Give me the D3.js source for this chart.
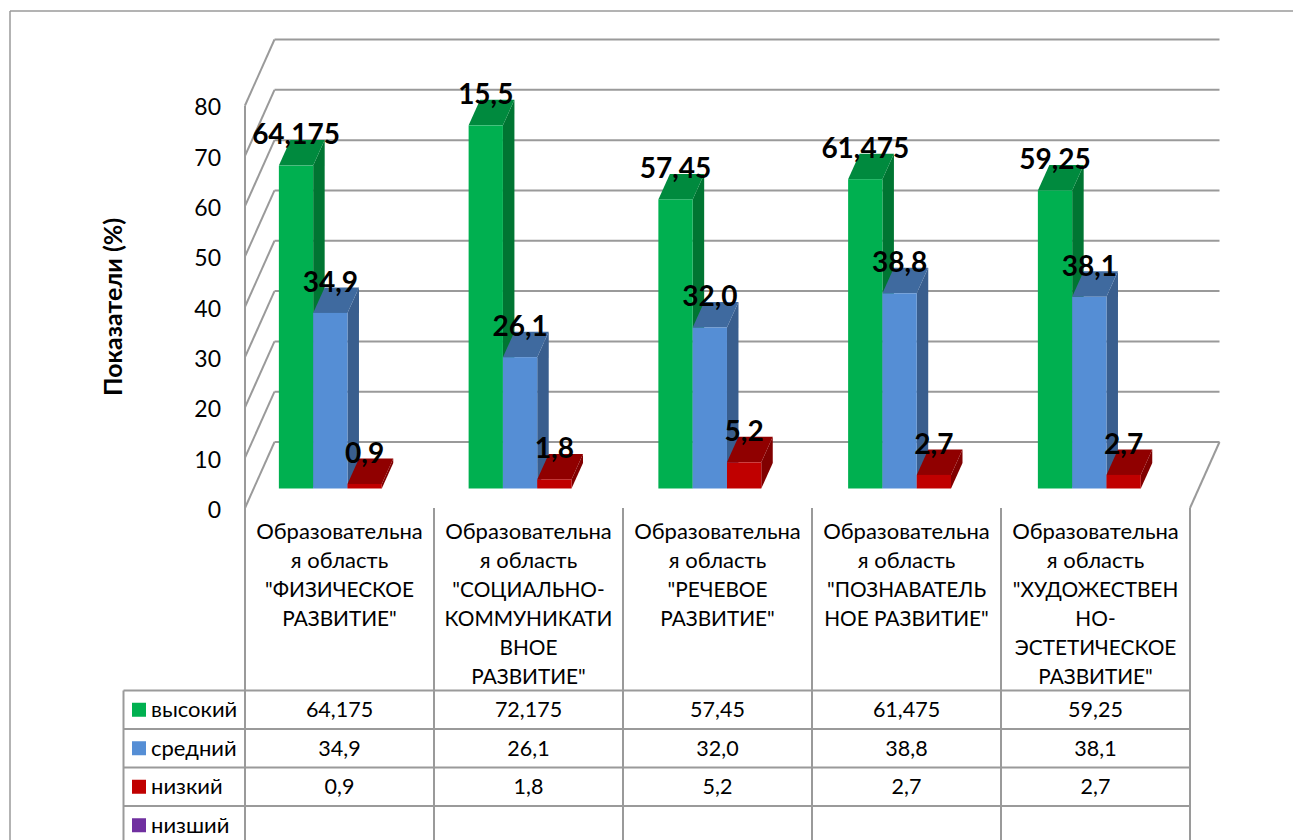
<!DOCTYPE html>
<html>
<head>
<meta charset="utf-8">
<script src="https://cdnjs.cloudflare.com/ajax/libs/d3/7.8.5/d3.min.js"></script>
<style>
	body { margin: 0; background: #fff; }
	svg { display: block; }
	text { font-family: Lato, "Noto Sans", sans-serif; fill: #000; }
</style>
</head>
<body>
<svg id="chart" width="1293" height="840"></svg>
<script>
// values
var categories = ["fiz", "soc", "rech", "pozn", "hud"];
var categoryLines = [
	["Образовательна", "я область", "\"ФИЗИЧЕСКОЕ", "РАЗВИТИЕ\""],
	["Образовательна", "я область", "\"СОЦИАЛЬНО-", "КОММУНИКАТИ", "ВНОЕ", "РАЗВИТИЕ\""],
	["Образовательна", "я область", "\"РЕЧЕВОЕ", "РАЗВИТИЕ\""],
	["Образовательна", "я область", "\"ПОЗНАВАТЕЛЬ", "НОЕ РАЗВИТИЕ\""],
	["Образовательна", "я область", "\"ХУДОЖЕСТВЕН", "НО-", "ЭСТЕТИЧЕСКОЕ", "РАЗВИТИЕ\""]
];
var seriesNames = ["высокий", "средний", "низкий", "низший"];
var seriesColors = ["#00b050", "#558ed5", "#c00000", "#7030a0"];
var sideColors = ["#007532", "#395e8e", "#800000", "#4a2070"];
var topColors = ["#008a3e", "#3f6a9f", "#900000", "#552580"];

var highValues = [64.175, 72.175, 57.45, 61.475, 59.25];
var midValues = [34.9, 26.1, 32.0, 38.8, 38.1];
var lowValues = [0.9, 1.8, 5.2, 2.7, 2.7];
var lowestValues = [];

// the chart's own labels, the second one really says 15,5 over the tall bar
var highLabels = ["64,175", "15,5", "57,45", "61,475", "59,25"];
var midLabels = ["34,9", "26,1", "32,0", "38,8", "38,1"];
var lowLabels = ["0,9", "1,8", "5,2", "2,7", "2,7"];

var highCells = ["64,175", "72,175", "57,45", "61,475", "59,25"];
var midCells = ["34,9", "26,1", "32,0", "38,8", "38,1"];
var lowCells = ["0,9", "1,8", "5,2", "2,7", "2,7"];
var lowestCells = ["", "", "", "", ""];

var yTicks = [0, 10, 20, 30, 40, 50, 60, 70, 80];

var svg = d3.select("#chart");
var gridColor = "#9a9a9a";

var y = d3.scaleLinear().domain([0, 80]).range([508, 105.5]);
var xTable = d3.scaleBand().domain(categories).range([245, 1190]);
var xBars = d3.scaleBand().domain(categories).range([245, 1193.75]);
var xInner = d3.scaleBand().domain([0, 1, 2])
	.range([0, xBars.bandwidth()])
	.paddingInner(0).paddingOuter(1.266).align(0.39);

var wallDx = 29.5, wallDy = -66;
var barDx = 11.5, barDy = -25.5, baseShift = -19.5;

function line(g, x1, y1, x2, y2, w) {
	g.append("line")
		.attr("x1", x1).attr("y1", y1)
		.attr("x2", x2).attr("y2", y2)
		.attr("stroke", gridColor)
		.attr("stroke-width", w || 2);
}

// page frame
var frame = svg.append("g");
line(frame, 10, 11, 1293, 11, 1.5);
line(frame, 10, 11, 10, 840, 1.5);

// walls and floor
var walls = svg.append("g");
yTicks.forEach(function(t) {
	line(walls, 245, y(t), 245 + wallDx, y(t) + wallDy);
	line(walls, 245 + wallDx, y(t) + wallDy, 1190 + wallDx, y(t) + wallDy);
});
line(walls, 245, y(80), 245, y(0));
line(walls, 1190, y(0), 1190 + wallDx, y(0) + wallDy);

// bars, green first so the next one covers its foot
var barSeries = [highValues, midValues, lowValues];
var labelSeries = [highLabels, midLabels, lowLabels];
var bars = svg.append("g");

barSeries.forEach(function(values, s) {
	var g = bars.selectAll(".s" + s)
		.data(values)
		.enter().append("g")
		.attr("class", "s" + s);

	function left(d, i) { return xBars(categories[i]) + xInner(s); }
	function right(d, i) { return left(d, i) + xInner.bandwidth(); }
	function top(d) { return y(d) + baseShift; }
	var base = y(0) + baseShift;

	g.append("polygon")
		.attr("fill", sideColors[s])
		.attr("points", function(d, i) {
			var r = right(d, i);
			return [[r, top(d)], [r + barDx, top(d) + barDy], [r + barDx, base + barDy], [r, base]].join(" ");
		});
	g.append("polygon")
		.attr("fill", topColors[s])
		.attr("points", function(d, i) {
			var l = left(d, i), r = right(d, i);
			return [[l, top(d)], [l + barDx, top(d) + barDy], [r + barDx, top(d) + barDy], [r, top(d)]].join(" ");
		});
	g.append("rect")
		.attr("fill", seriesColors[s])
		.attr("x", left)
		.attr("y", top)
		.attr("width", xInner.bandwidth())
		.attr("height", function(d) { return base - top(d); });
});

// data labels go on top of every bar
barSeries.forEach(function(values, s) {
	svg.append("g").selectAll("text")
		.data(values)
		.enter().append("text")
		.attr("x", function(d, i) { return xBars(categories[i]) + xInner(s) + xInner.bandwidth() / 2; })
		.attr("y", function(d) { return y(d) + baseShift - 31; })
		.attr("dy", "0.35em")
		.attr("text-anchor", "middle")
		.style("font-size", "28px")
		.style("font-weight", "bold")
		.text(function(d, i) { return labelSeries[s][i]; });
});

// value axis
var axis = svg.append("g")
	.attr("transform", "translate(221,2)")
	.call(d3.axisLeft(y).tickValues(yTicks).tickSize(0).tickPadding(0));
axis.select(".domain").remove();
axis.selectAll("text").style("font-size", "23px");

svg.append("text")
	.attr("transform", "translate(113,307) rotate(-90)")
	.attr("dy", "0.35em")
	.attr("text-anchor", "middle")
	.style("font-size", "25px")
	.style("font-weight", "bold")
	.text("Показатели (%)");

// data table under the chart
var rowNames = seriesNames;
var rowCells = [highCells, midCells, lowCells, lowestCells];
var rowY = d3.scaleBand().domain(rowNames).range([690.5, 844.5]);
var table = svg.append("g");

xTable.domain().forEach(function(c) {
	line(table, xTable(c), 508, xTable(c), 840);
});
line(table, 1190, 508, 1190, 840);
line(table, 123.5, 690.5, 123.5, 840);
rowNames.forEach(function(r) {
	line(table, 123.5, rowY(r), 1190, rowY(r));
});

categories.forEach(function(c, i) {
	table.append("g").selectAll("text")
		.data(categoryLines[i])
		.enter().append("text")
		.attr("x", xTable(c) + xTable.bandwidth() / 2)
		.attr("y", function(d, j) { return 531 + j * 29.2; })
		.attr("dy", "0.35em")
		.attr("text-anchor", "middle")
		// Lato capitals run wider than the lowercase, so those lines get a smaller size
		.style("font-size", function(d) { return d === d.toUpperCase() ? "20.8px" : "22px"; })
		.text(function(d) { return d; });
});

rowNames.forEach(function(r, s) {
	var mid = rowY(r) + rowY.bandwidth() / 2;
	table.append("rect")
		.attr("x", 132).attr("y", mid - 7)
		.attr("width", 14).attr("height", 14)
		.attr("fill", seriesColors[s]);
	table.append("text")
		.attr("x", 151).attr("y", mid)
		.attr("dy", "0.35em")
		.style("font-size", "22px")
		.text(r);
	table.append("g").selectAll("text")
		.data(rowCells[s])
		.enter().append("text")
		.attr("x", function(d, i) { return xTable(categories[i]) + xTable.bandwidth() / 2; })
		.attr("y", mid)
		.attr("dy", "0.35em")
		.attr("text-anchor", "middle")
		.style("font-size", "21.5px")
		.text(function(d) { return d; });
});
</script>
</body>
</html>
